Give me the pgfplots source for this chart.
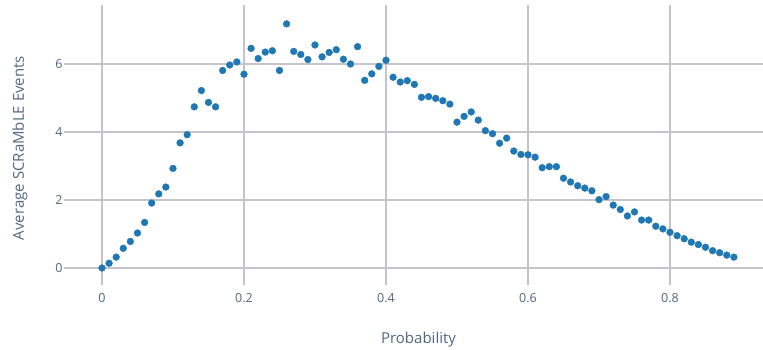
\documentclass[border=0pt]{standalone}
\usepackage{fontspec}
\setmainfont{Open Sans}
\usepackage{pgfplots}
\pgfplotsset{compat=1.18}
\usepackage{pgfplotstable}

\definecolor{markblue}{HTML}{1F77B4}
\definecolor{labeltext}{HTML}{506784}
\definecolor{gridgray}{HTML}{C3C4CC}
\definecolor{zerogray}{HTML}{E6ECF5}

\pgfplotstableread{
p     events
0.00  0.00
0.01  0.14
0.02  0.32
0.03  0.58
0.04  0.78
0.05  1.03
0.06  1.34
0.07  1.91
0.08  2.18
0.09  2.38
0.10  2.93
0.11  3.68
0.12  3.92
0.13  4.74
0.14  5.22
0.15  4.87
0.16  4.74
0.17  5.81
0.18  5.97
0.19  6.06
0.20  5.70
0.21  6.46
0.22  6.16
0.23  6.35
0.24  6.39
0.25  5.81
0.26  7.18
0.27  6.37
0.28  6.28
0.29  6.13
0.30  6.56
0.31  6.21
0.32  6.34
0.33  6.42
0.34  6.14
0.35  6.00
0.36  6.51
0.37  5.52
0.38  5.71
0.39  5.93
0.40  6.11
0.41  5.61
0.42  5.47
0.43  5.51
0.44  5.40
0.45  5.02
0.46  5.04
0.47  4.99
0.48  4.92
0.49  4.82
0.50  4.29
0.51  4.46
0.52  4.59
0.53  4.35
0.54  4.04
0.55  3.95
0.56  3.67
0.57  3.82
0.58  3.44
0.59  3.34
0.60  3.33
0.61  3.26
0.62  2.95
0.63  2.98
0.64  2.98
0.65  2.64
0.66  2.53
0.67  2.42
0.68  2.35
0.69  2.27
0.70  2.01
0.71  2.10
0.72  1.85
0.73  1.72
0.74  1.53
0.75  1.65
0.76  1.41
0.77  1.41
0.78  1.23
0.79  1.15
0.80  1.05
0.81  0.95
0.82  0.86
0.83  0.76
0.84  0.69
0.85  0.61
0.86  0.51
0.87  0.45
0.88  0.38
0.89  0.32
}\scramble

\begin{document}
\begin{tikzpicture}[x=1pt,y=1pt]
\path[use as bounding box] (0,0) rectangle (763,349);
\begin{axis}[
  at={(64pt,64pt)}, anchor=south west,
  scale only axis,
  width=699pt, height=280pt,
  xmin=-0.0535, xmax=0.931,
  ymin=-0.5, ymax=7.735,
  axis line style={draw=none},
  clip=false,
  xtick={0.2,0.4,0.6,0.8},
  ytick={2,4,6},
  extra x ticks={0},
  extra y ticks={0},
  extra tick style={grid style={line width=2pt, color=zerogray}},
  grid=major,
  major grid style={line width=1.1pt, color=gridgray},
  major tick length=0pt,
  tick style={draw=none},
  /pgf/number format/assume math mode=true,
  ticklabel style={font=\fontsize{12.5}{14}\selectfont, text=labeltext},
  xticklabel style={yshift=-5pt},
  yticklabel style={xshift=2pt},
  xlabel={Probability},
  ylabel={Average SCRaMbLE Events},
  label style={font=\fontsize{15}{17}\selectfont, text=labeltext},
  xlabel style={at={(axis description cs:0.5,0)}, anchor=base, yshift=-58pt, xshift=5pt},
  ylabel style={at={(axis description cs:0,0.5)}, anchor=base, yshift=40pt, xshift=-3pt},
]
\addplot[only marks, mark=*, mark size=3.4pt, color=markblue,
         mark options={draw=markblue, fill=markblue}]
  table[x=p, y=events] {\scramble};
\end{axis}
\end{tikzpicture}
\end{document}
